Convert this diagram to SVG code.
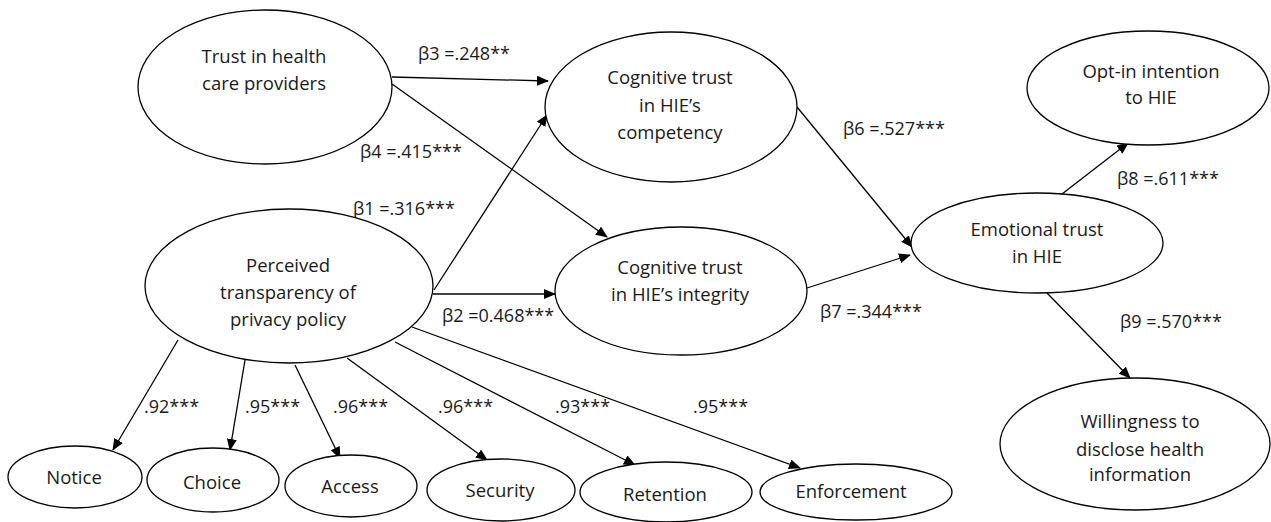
<svg xmlns="http://www.w3.org/2000/svg" width="1271" height="522" viewBox="0 0 1271 522">
<style>
.n ellipse{fill:#fff;stroke:#000;stroke-width:1.3}
text{font-family:"Open Sans","Liberation Sans",sans-serif;font-size:18px;fill:#1a1a1a}
.n text{text-anchor:middle;font-size:18.5px}
.c line{stroke:#000;stroke-width:1.3;fill:none}
.a line{marker-end:url(#ah)}
</style>
<defs>
<marker id="ah" markerUnits="userSpaceOnUse" markerWidth="12" markerHeight="10" refX="11" refY="5" orient="auto">
<path d="M0,0 L12,5 L0,10 Z" fill="#000"/>
</marker>
</defs>
<rect width="1271" height="522" fill="#fff"/>
<g class="c a" id="connectors">
<line x1="392" y1="77" x2="548" y2="81"/>
<line x1="392" y1="84" x2="607" y2="237"/>
<line x1="434" y1="290" x2="547" y2="115"/>
<line x1="433" y1="294" x2="555" y2="294"/>
<line x1="797" y1="107" x2="912" y2="247"/>
<line x1="807" y1="288" x2="910" y2="255"/>
<line x1="1062" y1="194" x2="1128" y2="143"/>
<line x1="1047" y1="293" x2="1130" y2="378"/>
<line x1="178" y1="340" x2="113" y2="450"/>
<line x1="245" y1="360" x2="230" y2="450"/>
<line x1="295" y1="365" x2="340" y2="458"/>
<line x1="347" y1="358" x2="487" y2="460"/>
<line x1="395" y1="342" x2="635" y2="465"/>
<line x1="412" y1="327" x2="800" y2="468"/>
</g>
<g id="labels">
<text x="418" y="60">β3 =.248**</text>
<text x="360" y="158">β4 =.415***</text>
<text x="353" y="215">β1 =.316***</text>
<text x="442" y="322">β2 =0.468***</text>
<text x="843" y="135">β6 =.527***</text>
<text x="820" y="318">β7 =.344***</text>
<text x="1117" y="185">β8 =.611***</text>
<text x="1120" y="328">β9 =.570***</text>
<text x="144" y="413">.92***</text>
<text x="245" y="413">.95***</text>
<text x="333" y="413">.96***</text>
<text x="438" y="413">.96***</text>
<text x="555" y="413">.93***</text>
<text x="693" y="413">.95***</text>
</g>
<g class="n" id="trust-providers"><ellipse cx="265" cy="87" rx="127" ry="77"/><text x="264" y="63">Trust in health</text><text x="264" y="90">care providers</text></g>
<g class="n" id="cog-competency"><ellipse cx="671" cy="107" rx="126" ry="75"/><text x="670" y="84">Cognitive trust</text><text x="670" y="112">in HIE’s</text><text x="670" y="139">competency</text></g>
<g class="n" id="cog-integrity"><ellipse cx="681" cy="291" rx="126" ry="64"/><text x="680" y="274">Cognitive trust</text><text x="680" y="301">in HIE’s integrity</text></g>
<g class="n" id="perceived"><ellipse cx="289" cy="286" rx="144" ry="77"/><text x="288" y="272">Perceived</text><text x="288" y="299">transparency of</text><text x="288" y="326">privacy policy</text></g>
<g class="n" id="emotional"><ellipse cx="1037" cy="243" rx="126" ry="50"/><text x="1037" y="236">Emotional trust</text><text x="1037" y="263">in HIE</text></g>
<g class="n" id="optin"><ellipse cx="1148" cy="88" rx="121" ry="57"/><text x="1151" y="78">Opt-in intention</text><text x="1151" y="104">to HIE</text></g>
<g class="n" id="willingness"><ellipse cx="1135" cy="444" rx="135" ry="66"/><text x="1140" y="428">Willingness to</text><text x="1140" y="456">disclose health</text><text x="1140" y="481">information</text></g>
<g class="n" id="notice"><ellipse cx="75" cy="477" rx="67" ry="31"/><text x="74" y="484">Notice</text></g>
<g class="n" id="choice"><ellipse cx="213" cy="480" rx="66" ry="32"/><text x="212" y="489">Choice</text></g>
<g class="n" id="access"><ellipse cx="351" cy="486" rx="66" ry="31"/><text x="350" y="493">Access</text></g>
<g class="n" id="security"><ellipse cx="501" cy="490" rx="74" ry="31"/><text x="500" y="497">Security</text></g>
<g class="n" id="retention"><ellipse cx="666" cy="492" rx="86" ry="30"/><text x="665" y="501">Retention</text></g>
<g class="n" id="enforcement"><ellipse cx="856" cy="492" rx="96" ry="28"/><text x="851" y="498">Enforcement</text></g>
</svg>
